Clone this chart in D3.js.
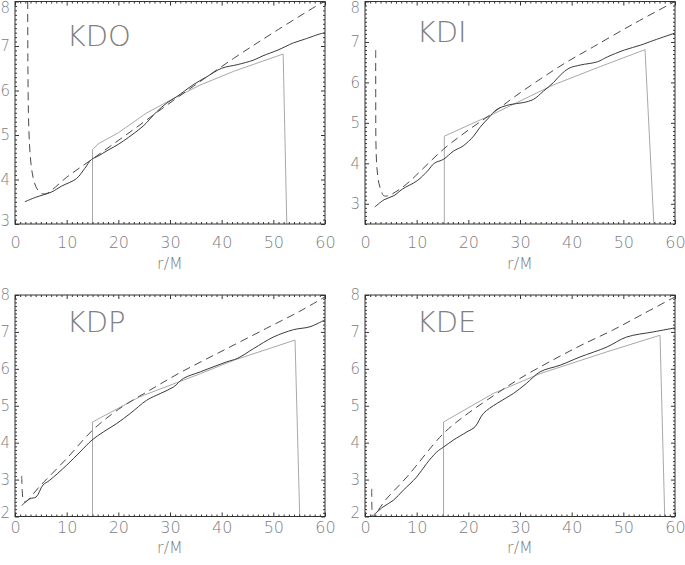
<!DOCTYPE html>
<html>
<head>
<meta charset="utf-8">
<script src="https://cdn.jsdelivr.net/npm/d3@7"></script>
<style>
  body { margin: 0; background: #fff; }
  svg { display: block; }
  .lbl { font-family: "DejaVu Sans", sans-serif; font-weight: 200; fill: #808080; }
  .tick text { font-family: "DejaVu Sans", sans-serif; font-weight: 200; fill: #808080; font-size: 16px; }
  .yax .tick text { font-size: 15px; }
  .tick line { stroke: #333; }
  .domain { stroke: none; }
</style>
</head>
<body>
<svg id="chart"></svg>
<script>
const width = 685;
const height = 565;

// panel names and y ranges
const panelNames = ["KDO", "KDI", "KDP", "KDE"];
const yMins = [3, 2.5, 2, 2];
const yMax = 8;
const xTicks = [0, 10, 20, 30, 40, 50, 60];

// [r/M, value]
const kdoSolid = [[1.9,3.5],[4,3.6],[7.1,3.72],[9,3.85],[11.9,4.02],[13.5,4.25],[14.8,4.45],[16,4.52],[18,4.66],[20,4.79],[22,4.95],[24.8,5.2],[27.4,5.52],[29.4,5.72],[31.3,5.86],[34.5,6.13],[37,6.3],[40,6.5],[43,6.58],[46.1,6.68],[48,6.78],[50.9,6.91],[53.9,7.07],[56,7.15],[59.3,7.28],[60,7.29]];
const kdoGray = [[15,2.5],[15,4.67],[16.1,4.8],[20,5.05],[25.4,5.49],[31.3,5.86],[35.8,6.12],[42.3,6.43],[51.9,6.82],[52.7,2.5]];
const kdoDash = [[2.45,8.3],[2.5,6.5],[2.6,5.5],[2.8,4.8],[3.1,4.35],[3.5,4.05],[4,3.85],[4.6,3.74],[5.3,3.68],[6,3.68],[7,3.75],[10,4.05],[15.1,4.47],[22.9,5.12],[31.3,5.83],[42.3,6.72],[50,7.3],[59.1,7.95],[60,8.0]];

const kdiSolid = [[1.9,2.92],[3.7,3.1],[5.6,3.2],[7.2,3.36],[10.1,3.57],[12.1,3.81],[13.4,4.0],[15.2,4.1],[17.1,4.3],[19,4.43],[21,4.67],[22.2,4.88],[23.9,5.12],[25.5,5.33],[28,5.45],[30.6,5.5],[32.6,5.58],[34.5,5.78],[36.5,6.0],[37.8,6.18],[39.5,6.35],[41.7,6.43],[45,6.51],[46.9,6.63],[50.2,6.8],[53.3,6.92],[55.9,7.04],[60,7.22]];
const kdiGray = [[15.35,2],[15.35,4.67],[24.5,5.2],[36.5,5.94],[45.5,6.39],[54.2,6.81],[56.1,2]];
const kdiDash = [[2.07,6.8],[2.08,5.5],[2.12,4.5],[2.3,3.9],[2.7,3.5],[3.2,3.3],[3.6,3.2],[4.5,3.2],[6,3.3],[8.07,3.49],[15.2,4.35],[20,4.82],[24.8,5.25],[29,5.65],[33.9,6.08],[39,6.5],[44.2,6.88],[52,7.45],[60,8.0]];

const kdpSolid = [[1.3,2.3],[2.9,2.48],[4.1,2.53],[5.4,2.85],[6.7,2.98],[10,3.39],[12.6,3.75],[14.9,4.07],[17.1,4.29],[19.7,4.52],[22.3,4.79],[25.5,5.15],[28.1,5.33],[30.7,5.51],[32.6,5.74],[35.9,5.92],[41,6.19],[43,6.28],[46.2,6.55],[50,6.86],[53.9,7.06],[57.1,7.14],[60,7.33]];
const kdpGray = [[15,1.5],[15,4.56],[24.1,5.24],[35.9,5.87],[42.3,6.23],[54.2,6.78],[55.2,1.5]];
const kdpDash = [[1.3,3.1],[1.4,2.7],[1.6,2.45],[1.9,2.39],[5,2.85],[10,3.57],[15.1,4.35],[20,4.9],[26.8,5.48],[32,5.9],[37.1,6.27],[42,6.62],[48.7,7.1],[55,7.55],[60,7.95]];

const kdeSolid = [[1.6,2.03],[3.5,2.26],[5.5,2.44],[7.4,2.71],[10,3.07],[11.9,3.43],[13.9,3.75],[15.2,3.88],[17.1,4.07],[19.7,4.29],[21.3,4.43],[22.9,4.79],[25.5,5.06],[28.7,5.33],[31.2,5.6],[33.9,5.92],[37.8,6.1],[41.6,6.32],[46.8,6.59],[50.6,6.86],[55.8,7.0],[60,7.11]];
const kdeGray = [[15.2,1.5],[15.2,4.56],[24.8,5.33],[33.9,5.87],[46.8,6.46],[57.1,6.91],[58.1,1.5]];
const kdeDash = [[1.3,2.75],[1.35,2.2],[1.5,1.95],[2,2.05],[4,2.45],[8.1,3.07],[15.2,4.25],[20,4.8],[25.5,5.33],[30,5.74],[36.5,6.25],[42,6.65],[48.1,7.06],[54,7.5],[60,7.95]];

const solids = [kdoSolid, kdiSolid, kdpSolid, kdeSolid];
const grays = [kdoGray, kdiGray, kdpGray, kdeGray];
const dashes = [kdoDash, kdiDash, kdpDash, kdeDash];

// plot boxes in pixels
const boxes = [
  {left: 15, right: 325, top: 1.5, bottom: 224, lab: 13, title: 45},
  {left: 365, right: 675, top: 1.5, bottom: 224, lab: 13, title: 45},
  {left: 15, right: 325, top: 295, bottom: 516.5, lab: 5, title: 36},
  {left: 365, right: 675, top: 295, bottom: 516.5, lab: 5, title: 36}
];

const svg = d3.select("#chart").attr("width", width).attr("height", height);

boxes.forEach((b, i) => {
  const x = d3.scaleLinear().domain([0, 60]).range([b.left, b.right]);
  const y = d3.scaleLinear().domain([yMins[i], yMax]).range([b.bottom, b.top]);
  const g = svg.append("g");

  g.append("clipPath").attr("id", "clip" + i)
    .append("rect")
      .attr("x", b.left).attr("y", b.top)
      .attr("width", b.right - b.left).attr("height", b.bottom - b.top);

  const lineLin = d3.line().x(d => x(d[0])).y(d => y(d[1]));
  const lineSmooth = d3.line().x(d => x(d[0])).y(d => y(d[1])).curve(d3.curveCatmullRom.alpha(0.5));

  const plot = g.append("g").attr("clip-path", `url(#clip${i})`);
  plot.append("path").datum(grays[i])
    .attr("d", lineLin).attr("fill", "none")
    .attr("stroke", "#a8a8a8").attr("stroke-width", 1);
  plot.append("path").datum(solids[i])
    .attr("d", lineSmooth).attr("fill", "none")
    .attr("stroke", "#3a3a3a").attr("stroke-width", 1);
  plot.append("path").datum(dashes[i])
    .attr("d", lineSmooth).attr("fill", "none")
    .attr("stroke", "#4a4a4a").attr("stroke-width", 1)
    .attr("stroke-dasharray", "8,5");

  // minor ticks
  const xMinor = d3.range(0, 61, 1).filter(v => v % 10 !== 0);
  const yMinor = d3.range(Math.ceil(yMins[i] * 10), 81, 1).map(v => v / 10).filter(v => Math.abs(v - Math.round(v)) > 1e-6);

  g.append("g").attr("transform", `translate(0,${b.bottom})`)
    .call(d3.axisBottom(x).tickValues(xMinor).tickSize(-2).tickFormat(""));
  g.append("g").attr("transform", `translate(0,${b.top})`)
    .call(d3.axisTop(x).tickValues(xMinor).tickSize(-2).tickFormat(""));
  g.append("g").attr("transform", `translate(${b.left},0)`)
    .call(d3.axisLeft(y).tickValues(yMinor).tickSize(-2).tickFormat(""));
  g.append("g").attr("transform", `translate(${b.right},0)`)
    .call(d3.axisRight(y).tickValues(yMinor).tickSize(-2).tickFormat(""));

  // major ticks with labels
  g.append("g").attr("transform", `translate(0,${b.bottom})`)
    .call(d3.axisBottom(x).tickValues(xTicks).tickSize(-4).tickPadding(b.lab).tickFormat(d3.format("d")));
  g.append("g").attr("transform", `translate(0,${b.top})`)
    .call(d3.axisTop(x).tickValues(xTicks).tickSize(-4).tickFormat(""));
  const yMajor = d3.range(Math.ceil(yMins[i]), 9);
  const yAx = g.append("g").attr("class", "yax").attr("transform", `translate(${b.left},0)`)
    .call(d3.axisLeft(y).tickValues(yMajor).tickSize(-4).tickPadding(5).tickFormat(d3.format("d")));
  // keep end labels inside the picture
  yAx.selectAll(".tick text")
    .attr("y", v => Math.min(Math.max(y(v), 7.5), b.bottom - 3.5) - y(v));
  g.append("g").attr("transform", `translate(${b.right},0)`)
    .call(d3.axisRight(y).tickValues(yMajor).tickSize(-4).tickFormat(""));

  // box
  g.append("rect")
    .attr("x", b.left).attr("y", b.top)
    .attr("width", b.right - b.left).attr("height", b.bottom - b.top)
    .attr("fill", "none").attr("stroke", "#333").attr("stroke-width", 1);

  g.append("text").attr("class", "lbl")
    .attr("x", x(10)).attr("y", y(7))
    .attr("font-size", 29)
    .text(panelNames[i]);

  g.append("text").attr("class", "lbl")
    .attr("x", (b.left + b.right) / 2).attr("y", b.bottom + b.title)
    .attr("text-anchor", "middle")
    .attr("font-size", 16)
    .text("r/M");
});
</script>
</body>
</html>
